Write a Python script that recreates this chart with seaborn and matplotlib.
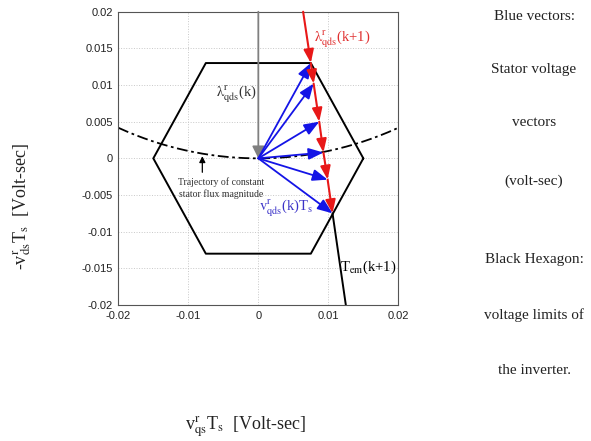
import numpy as np
import matplotlib
matplotlib.use("Agg")
import matplotlib.pyplot as plt
import seaborn as sns
import pandas as pd

# Inverter voltage limit hexagon (volt-sec)
hex_q = [0.015, 0.0075, -0.0075, -0.015, -0.0075, 0.0075, 0.015]
hex_d = [0.0, 0.013, 0.013, 0.0, -0.013, -0.013, 0.0]

# Stator voltage vector tips v_qds(k)*Ts
tip_q = [0.0075, 0.0079, 0.0087, 0.0093, 0.0099, 0.0106]
tip_d = [0.0130, 0.0102, 0.0050, 0.0008, -0.0029, -0.0075]

# Flux vector lambda_qds(k) and the lambda_qds(k+1) locus
flux_start = (0.0, 0.02)
flux_end = (0.0, 0.0)
locus_start = (0.0064, 0.02)
torque_line_q = [0.0106, 0.0125]
torque_line_d = [-0.0075, -0.02]

# Constant stator flux magnitude (radius of the trajectory circle)
flux_radius = 0.05

x_ticks = [-0.02, -0.01, 0, 0.01, 0.02]
y_ticks = [0.02, 0.015, 0.01, 0.005, 0, -0.005, -0.01, -0.015, -0.02]

sns.set_theme(style="white")
plt.rcParams["font.family"] = ["Liberation Serif", "DejaVu Serif"]
plt.rcParams["mathtext.fontset"] = "stix"

fig = plt.figure(figsize=(5.91, 4.41), dpi=100)
ax = fig.add_axes([0.2002, 0.3084, 0.4738, 0.665])

# Hexagon
sns.lineplot(data=pd.DataFrame({"q": hex_q, "d": hex_d}), x="q", y="d", sort=False,
             estimator=None, color="black", linewidth=1.4, ax=ax)

# Trajectory of constant stator flux magnitude
arc_q = np.linspace(-0.02, 0.02, 200)
arc_d = flux_radius - np.sqrt(flux_radius ** 2 - arc_q ** 2)
sns.lineplot(x=arc_q, y=arc_d, color="black", linewidth=1.3, linestyle=(0, (6, 2, 1.5, 2)),
             sort=False, estimator=None, ax=ax)

# Torque line
sns.lineplot(x=torque_line_q, y=torque_line_d, color="black", linewidth=1.4, ax=ax,
             sort=False, estimator=None)

ax.set_xlim(-0.02, 0.02)
ax.set_ylim(-0.02, 0.02)
ax.set_xlabel("")
ax.set_ylabel("")
ax.set_xticks(x_ticks)
ax.set_xticklabels(["-0.02", "-0.01", "0", "0.01", "0.02"], fontfamily="Liberation Sans", fontsize=8)
ax.set_yticks(y_ticks)
ax.set_yticklabels(["0.02", "0.015", "0.01", "0.005", "0", "-0.005", "-0.01", "-0.015", "-0.02"],
                   fontfamily="Liberation Sans", fontsize=8)
ax.tick_params(axis="both", length=3, width=0.6, color="#555555", direction="in", pad=4, labelcolor="#222222")
ax.grid(True, color="#c8c8c8", linestyle=":", linewidth=0.7)
for s in ax.spines.values():
    s.set_color("#555555")
    s.set_linewidth(0.8)

# lambda_qds(k)
ax.annotate("", xy=flux_end, xytext=flux_start,
            arrowprops=dict(arrowstyle="-|>,head_length=0.6,head_width=0.3", color="#808080", lw=1.3,
                            mutation_scale=12, shrinkA=0, shrinkB=0))

# Blue voltage vectors
for q, d in zip(tip_q, tip_d):
    ax.annotate("", xy=(q, d), xytext=(0, 0),
                arrowprops=dict(arrowstyle="-|>,head_length=0.9,head_width=0.35", color="#1414e6",
                                lw=1.3, mutation_scale=10, shrinkA=0, shrinkB=0))

# Red lambda_qds(k+1) locus with arrows at each reachable point
chain_q = [locus_start[0]] + tip_q
chain_d = [locus_start[1]] + tip_d
for i in range(len(tip_q)):
    ax.annotate("", xy=(chain_q[i + 1], chain_d[i + 1]), xytext=(chain_q[i], chain_d[i]),
                arrowprops=dict(arrowstyle="-|>,head_length=0.8,head_width=0.3", color="#e81818",
                                lw=1.5, mutation_scale=10, shrinkA=0, shrinkB=0))

# Small arrow pointing to the trajectory
ax.annotate("", xy=(-0.008, 0.0003), xytext=(-0.008, -0.0019),
            arrowprops=dict(arrowstyle="-|>", color="black", lw=0.9, mutation_scale=9,
                            shrinkA=0, shrinkB=0))
ax.text(-0.0053, -0.0040, "Trajectory of constant\nstator flux magnitude", ha="center", va="center",
        fontsize=7, color="#333333", linespacing=1.3)

ax.text(0.0079, 0.0162, r"$\mathrm{\lambda^{r}_{qds}}$(k+1)", color="#e03030", fontsize=10.5,
        ha="left", va="center")
ax.text(-0.0061, 0.0087, r"$\mathrm{\lambda^{r}_{qds}}$(k)", color="#333333", fontsize=10.5,
        ha="left", va="center")
ax.text(0.0001, -0.0068, r"$\mathrm{v^{r}_{qds}}$(k)T$_{\mathrm{s}}$", color="#3b33c8", fontsize=10.5,
        ha="left", va="center")
ax.text(0.0117, -0.0148, r"T$_{\mathrm{em}}$(k+1)", color="black", fontsize=10.5,
        ha="left", va="center")

# Axis labels
fig.text(245 / 591, 1 - 427 / 441, r"v$^{\mathrm{r}}_{\mathrm{qs}}$T$_{\mathrm{s}}$  [Volt-sec]",
         ha="center", va="center", fontsize=13, color="#222222")
fig.text(22 / 591, 1 - 207 / 441, r"-v$^{\mathrm{r}}_{\mathrm{ds}}$T$_{\mathrm{s}}$  [Volt-sec]",
         ha="center", va="center", fontsize=13, rotation=90, color="#222222")

# Side notes
notes = [("Blue vectors:", 17), ("Stator voltage", 69), ("vectors", 123), ("(volt-sec)", 181),
         ("Black Hexagon:", 260), ("voltage limits of", 315), ("the inverter.", 370)]
for txt, yp in notes:
    fig.text(534 / 591, 1 - yp / 441, txt, ha="center", va="center", fontsize=11, color="#222222")

fig.savefig("out.png", dpi=100, facecolor="white")
